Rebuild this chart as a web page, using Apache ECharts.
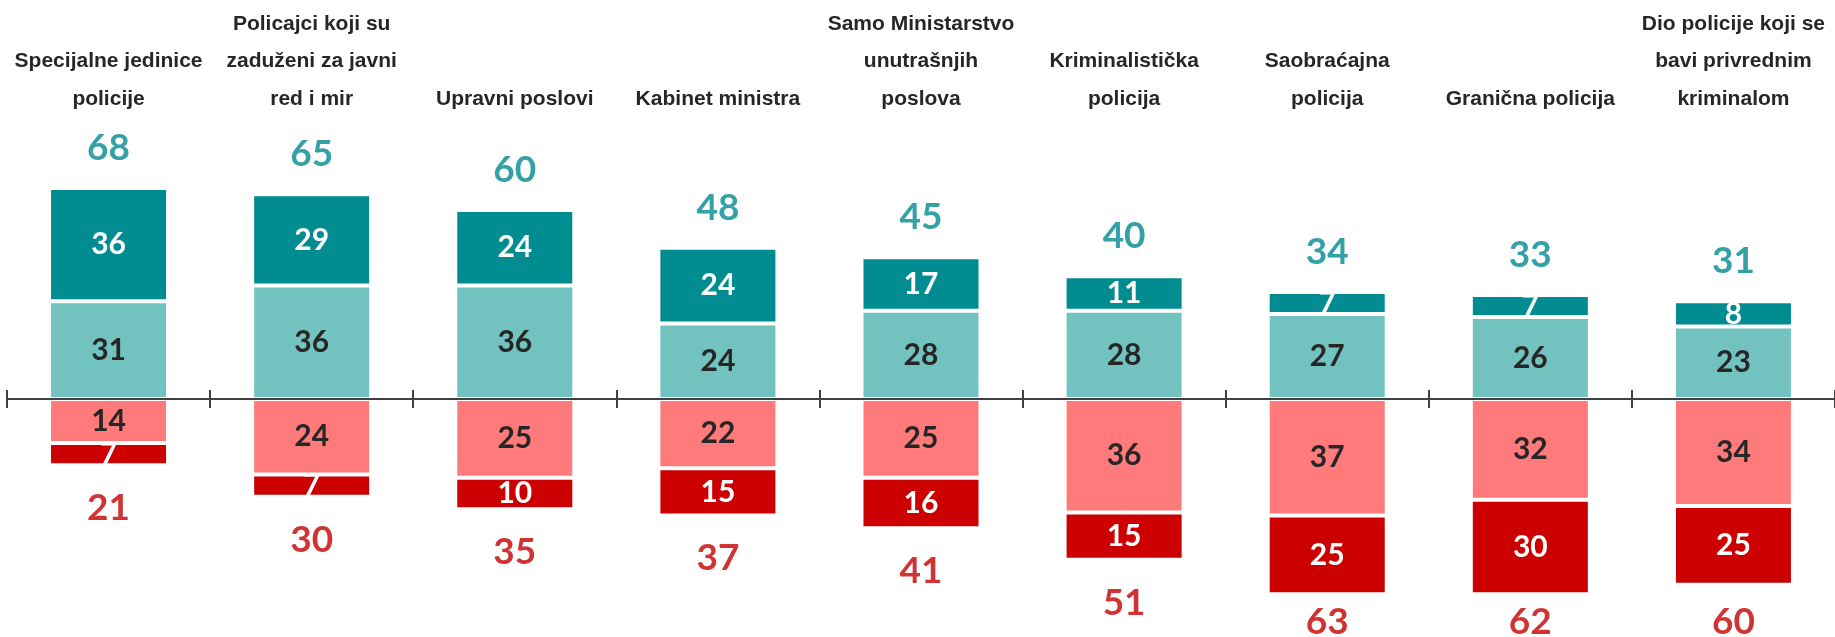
<!DOCTYPE html>
<html>
<head>
<meta charset="utf-8">
<script src="https://cdn.jsdelivr.net/npm/echarts@6/dist/echarts.min.js"></script>
<style>
html,body{margin:0;padding:0;background:#fff;}
#chart{width:1835px;height:637px;}
</style>
</head>
<body>
<div id="chart"></div>
<script>
const categories = [
  "Specijalne jedinice\npolicije",
  "Policajci koji su\nzaduženi za javni\nred i mir",
  "Upravni poslovi",
  "Kabinet ministra",
  "Samo Ministarstvo\nunutrašnjih\nposlova",
  "Kriminalistička\npolicija",
  "Saobraćajna\npolicija",
  "Granična policija",
  "Dio policije koji se\nbavi privrednim\nkriminalom"
];
const positiveStrong = [36, 29, 24, 24, 17, 11, 7, 7, 8];
const positiveMild   = [31, 36, 36, 24, 28, 28, 27, 26, 23];
const negativeMild   = [14, 24, 25, 22, 25, 36, 37, 32, 34];
const negativeStrong = [7, 7, 10, 15, 16, 15, 25, 30, 25];
const totalPositive  = [68, 65, 60, 48, 45, 40, 34, 33, 31];
const totalNegative  = [21, 30, 35, 37, 41, 51, 63, 62, 60];

const C_DARK_TEAL = '#008C90';
const C_LIGHT_TEAL = '#72C3C0';
const C_LIGHT_RED = '#FF7B7B';
const C_DARK_RED = '#CC0000';
const NUM_FONT = 'Lato, "Open Sans", sans-serif';
const CAT_FONT = '"Liberation Sans", Arial, sans-serif';

const chart = echarts.init(document.getElementById('chart'), null, {renderer: 'canvas'});
const H = 637;

function segLabel(color) {
  return {
    show: true, position: 'inside', color: color,
    fontFamily: NUM_FONT, fontWeight: 'bold', fontSize: 30,
    formatter: p => Math.abs(p.value)
  };
}
const barCommon = {
  type: 'bar', stack: 'all', barWidth: '58.6%',
  xAxisIndex: 0, yAxisIndex: 0,
  itemStyle: {borderColor: '#ffffff', borderWidth: 2},
  emphasis: {disabled: true}, silent: true
};

const topPos = positiveMild.map((v, i) => v + positiveStrong[i]);
const botPos = negativeMild.map((v, i) => -(v + negativeStrong[i]));

const option = {
  animation: false,
  backgroundColor: '#ffffff',
  grid: {left: 7, right: 0, top: 115.5, bottom: 17.5, containLabel: false},
  xAxis: [
    {
      type: 'category', data: categories, position: 'bottom', z: 10,
      axisLine: {show: true, onZero: true, onZeroAxisIndex: 0, lineStyle: {color: '#404040', width: 2}},
      axisTick: {show: true, length: 9, lineStyle: {color: '#404040', width: 2}},
      axisLabel: {show: false}, splitLine: {show: false}
    },
    {
      type: 'category', data: categories, position: 'bottom', z: 10,
      axisLine: {show: true, onZero: true, onZeroAxisIndex: 1, lineStyle: {color: '#404040', width: 2}},
      axisTick: {show: true, inside: true, length: 9, lineStyle: {color: '#404040', width: 2}},
      axisLabel: {show: false}, splitLine: {show: false}
    },
    {
      type: 'category', data: categories, position: 'top',
      axisLine: {show: false, onZero: false},
      axisTick: {show: false},
      axisLabel: {
        show: true, interval: 0, margin: -2,
        fontFamily: CAT_FONT, fontWeight: 'bold', fontSize: 21,
        lineHeight: 37.5, color: '#262626', align: 'center'
      },
      splitLine: {show: false}
    }
  ],
  yAxis: [
    {type: 'value', min: -70, max: 90, show: false, splitLine: {show: false}},
    {type: 'value', min: -70, max: 90, show: false, splitLine: {show: false}}
  ],
  series: [
    Object.assign({}, barCommon, {
      name: 'mild+', data: positiveMild,
      itemStyle: Object.assign({}, barCommon.itemStyle, {color: C_LIGHT_TEAL}),
      label: segLabel('#262626')
    }),
    Object.assign({}, barCommon, {
      name: 'strong+', data: positiveStrong,
      itemStyle: Object.assign({}, barCommon.itemStyle, {color: C_DARK_TEAL}),
      label: segLabel('#ffffff')
    }),
    Object.assign({}, barCommon, {
      name: 'mild-', data: negativeMild.map(v => -v),
      itemStyle: Object.assign({}, barCommon.itemStyle, {color: C_LIGHT_RED}),
      label: segLabel('#262626')
    }),
    Object.assign({}, barCommon, {
      name: 'strong-', data: negativeStrong.map(v => -v),
      itemStyle: Object.assign({}, barCommon.itemStyle, {color: C_DARK_RED}),
      label: segLabel('#ffffff')
    }),
    {
      type: 'scatter', name: 'totalPos', silent: true,
      xAxisIndex: 0, yAxisIndex: 0,
      symbolSize: 1, itemStyle: {color: 'rgba(0,0,0,0)'},
      data: topPos,
      label: {
        show: true, position: 'top', distance: 21,
        color: '#008A8E', fontFamily: NUM_FONT, fontWeight: 'bold', fontSize: 37,
        formatter: p => totalPositive[p.dataIndex]
      }
    },
    {
      type: 'scatter', name: 'totalNeg', silent: true,
      xAxisIndex: 0, yAxisIndex: 0,
      symbolSize: 1, itemStyle: {color: 'rgba(0,0,0,0)'},
      data: botPos,
      label: {
        show: true, position: 'bottom', distance: 24,
        color: '#C40000', fontFamily: NUM_FONT, fontWeight: 'bold', fontSize: 37,
        formatter: p => totalNegative[p.dataIndex]
      },
      labelLayout: function (p) {
        const r = p.labelRect;
        const maxCenter = H - 15;
        if (r.y + r.height / 2 > maxCenter) {
          return {x: r.x + r.width / 2, y: maxCenter, align: 'center', verticalAlign: 'middle'};
        }
        return {};
      }
    }
  ]
};
chart.setOption(option);
</script>
</body>
</html>
